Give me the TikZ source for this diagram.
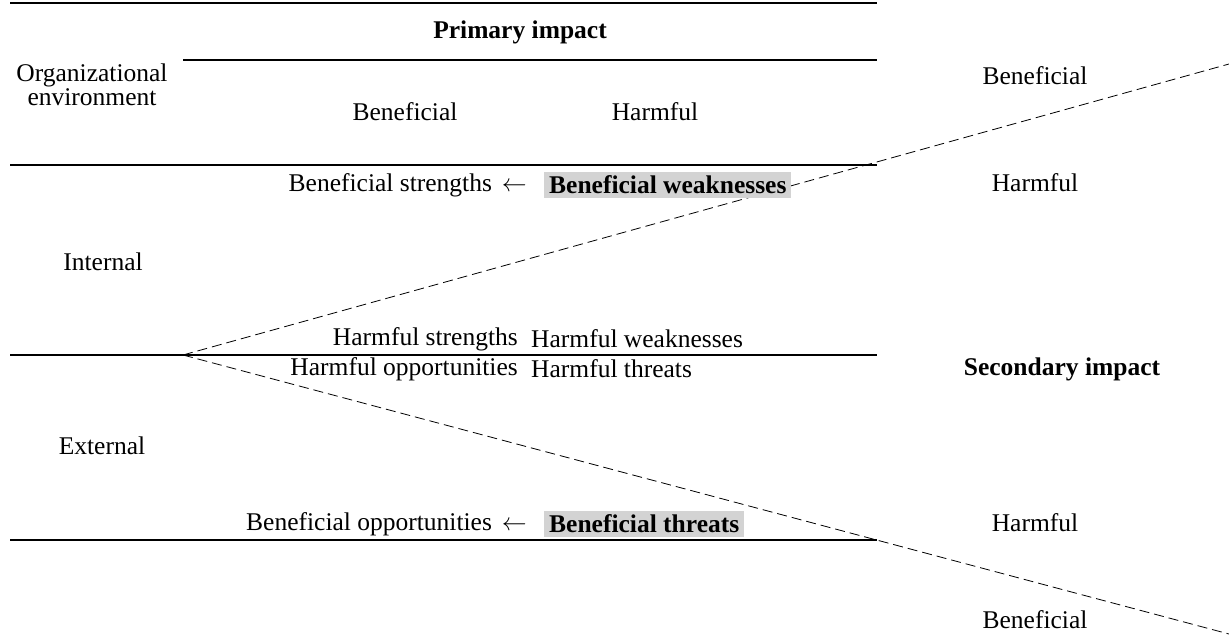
\documentclass[tikz,border=0pt]{standalone}
\usepackage{fontspec}
\setmainfont{Liberation Serif}
\usepackage{tikz}
\usetikzlibrary{positioning}
\definecolor{hlgray}{RGB}{211,211,211}

\begin{document}
\begin{tikzpicture}[x=1pt,y=-1pt,
  txt/.style={font=\fontsize{25.5}{24}\selectfont, inner sep=0pt, align=center},
  bold/.style={txt, font=\fontsize{25.5}{24}\selectfont\bfseries},
  hl/.style={bold, fill=hlgray, inner xsep=5pt, inner ysep=4pt},
  rule/.style={line width=2pt},
  split/.style={line width=0.8pt, dash pattern=on 10pt off 5pt}]

\useasboundingbox (0,0) rectangle (1229,636);

% table rules
\draw [rule] (10,3) -- (877,3);
\draw [rule] (183,60) -- (877,60);
\draw [rule] (10,165) -- (877,165);
\draw [rule] (10,355) -- (877,355);
\draw [rule] (10,540) -- (877,540);

% secondary impact split
\coordinate (apex) at (183,355);
\coordinate (upend) at (1229,64);
\coordinate (lowend) at (1229,634);
\draw [split] (apex) -- (upend);
\draw [split] (apex) -- (lowend);

% header
\node (primary) [bold] at (520,32) {Primary impact};
\node (orgenv) [txt] at (92,85) {Organizational\\environment};
\node (hdben) [txt] at (405,112) {Beneficial};
\node (hdharm) [txt] at (655,112) {Harmful};

% row labels
\node (internal) [txt] at (103,262) {Internal};
\node (external) [txt] at (102,446) {External};

% cells
\node (bstr) [txt, anchor=east] at (527,185) {Beneficial strengths\hspace{10pt}$\leftarrow$};
\node (bweak) [hl, anchor=west] at (544,185) {Beneficial weaknesses};
\node (hstr) [txt, anchor=east] at (518,339) {Harmful strengths};
\node (hweak) [txt, anchor=west] at (531,339) {Harmful weaknesses};
\node (hopp) [txt, anchor=east] at (518,369) {Harmful opportunities};
\node (hthr) [txt, anchor=west] at (531,369) {Harmful threats};
\node (bopp) [txt, anchor=east] at (527,524) {Beneficial opportunities\hspace{10pt}$\leftarrow$};
\node (bthr) [hl, anchor=west] at (544,524) {Beneficial threats};

% secondary impact column
\node (rben1) [txt] at (1035,76) {Beneficial};
\node (rharm1) [txt] at (1035,183) {Harmful};
\node (secondary) [bold] at (1062,369) {Secondary impact};
\node (rharm2) [txt] at (1035,523) {Harmful};
\node (rben2) [txt] at (1035,620) {Beneficial};

\end{tikzpicture}
\end{document}
